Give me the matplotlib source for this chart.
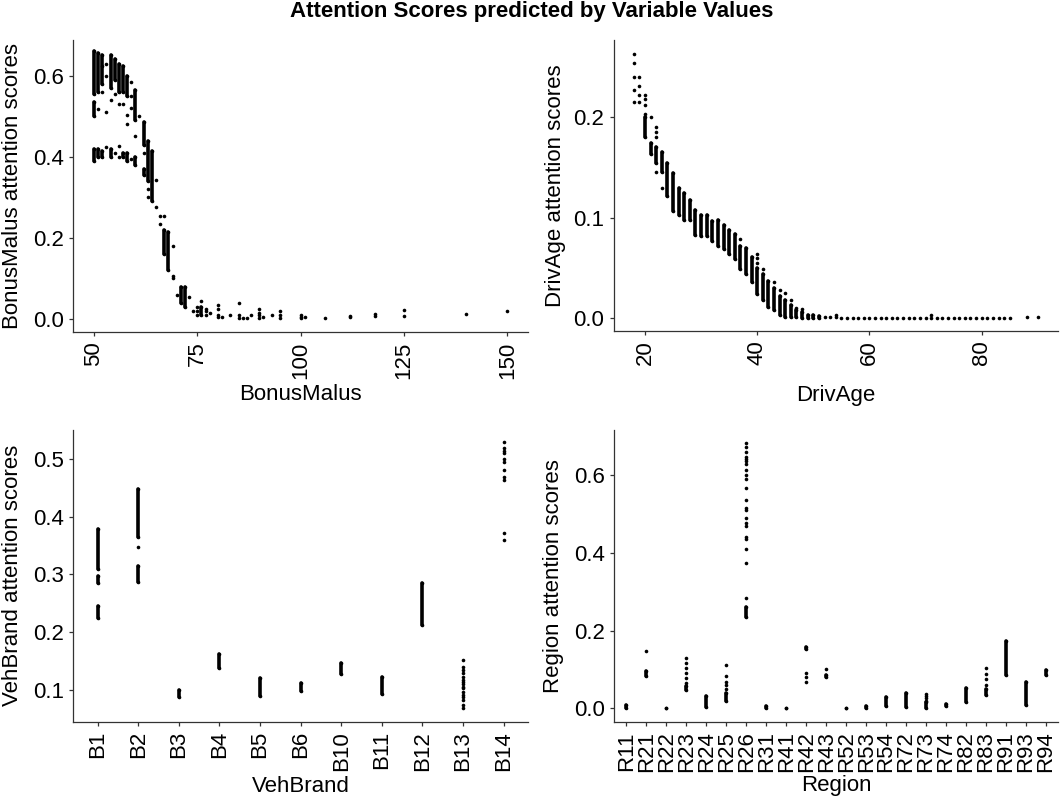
import matplotlib
matplotlib.use("Agg")
import matplotlib.pyplot as plt

plt.rcParams['font.family'] = ['Liberation Sans', 'DejaVu Sans']

# ---------------- Data ----------------
# BonusMalus: dense vertical bands (x, low, high) and single points (x, y)
bm_band_x  = [50, 50, 50, 51, 51, 52, 52, 54, 54, 55, 56, 57, 57, 58, 58, 60, 60, 62, 62, 63, 64, 67, 68, 71, 72, 76]
bm_band_lo = [0.555, 0.500, 0.390, 0.560, 0.400, 0.580, 0.400, 0.570, 0.400, 0.590, 0.560, 0.560, 0.400, 0.550, 0.390, 0.490, 0.380, 0.430, 0.355, 0.340, 0.290, 0.160, 0.120, 0.040, 0.030, 0.010]
bm_band_hi = [0.660, 0.535, 0.420, 0.655, 0.420, 0.650, 0.415, 0.650, 0.420, 0.640, 0.630, 0.625, 0.410, 0.600, 0.410, 0.565, 0.400, 0.485, 0.370, 0.440, 0.415, 0.220, 0.215, 0.080, 0.080, 0.030]
bm_pt_x = [51, 53, 53, 53, 53, 52, 52, 54, 55, 55, 56, 56, 56, 57, 58, 58, 59, 59, 59, 59, 60, 61, 62, 63, 63,
           65, 65, 66, 66, 67, 69, 69, 69, 70, 73, 74, 75, 75, 75, 76, 77, 77, 77, 78, 80, 80, 80, 80, 81, 83,
           85, 85, 85, 86, 87, 88, 90, 90, 90, 90, 91, 93, 95, 95, 95, 100, 100, 100, 101, 106, 112, 112,
           118, 118, 125, 125, 140, 150]
bm_pt_y = [0.517, 0.511, 0.424, 0.600, 0.630, 0.625, 0.560, 0.540, 0.555, 0.410, 0.530, 0.427, 0.400, 0.530, 0.481, 0.504, 0.585, 0.550, 0.520, 0.395, 0.451, 0.500, 0.409, 0.320, 0.300,
           0.343, 0.277, 0.235, 0.255, 0.255, 0.180, 0.105, 0.100, 0.060, 0.055, 0.020, 0.010, 0.020, 0.030, 0.045, 0.010, 0.020, 0.025, 0.015, 0.005, 0.010, 0.025, 0.035, 0.005, 0.010,
           0.003, 0.010, 0.040, 0.003, 0.003, 0.010, 0.002, 0.010, 0.015, 0.025, 0.006, 0.010, 0.002, 0.010, 0.020, 0.002, 0.005, 0.010, 0.006, 0.003, 0.004, 0.008,
           0.008, 0.012, 0.008, 0.022, 0.013, 0.020]

# DrivAge
da_band_x  = [20, 21, 22, 23, 24, 25, 26, 27, 28, 29, 30, 31, 32, 33, 34, 35, 36, 37, 38, 39, 40, 41, 42, 43, 44, 45, 46, 47, 48, 49, 50, 51]
da_band_lo = [0.180, 0.163, 0.155, 0.146, 0.122, 0.107, 0.103, 0.098, 0.098, 0.083, 0.082, 0.082, 0.077, 0.072, 0.069, 0.064, 0.059, 0.049, 0.044, 0.036, 0.024, 0.018, 0.011, 0.008, 0.003, 0.0015, 0.001, 0.0007, 0.000, 0.000, 0.000, 0.000]
da_band_hi = [0.200, 0.174, 0.170, 0.165, 0.155, 0.145, 0.130, 0.125, 0.118, 0.108, 0.103, 0.103, 0.097, 0.098, 0.093, 0.088, 0.084, 0.072, 0.070, 0.061, 0.050, 0.044, 0.037, 0.030, 0.022, 0.018, 0.013, 0.008, 0.006, 0.003, 0.003, 0.002]
da_pt_x = [18, 18, 18, 18, 18, 19, 19, 19, 19, 20, 20, 20, 20, 21, 22, 22, 22, 22, 23, 37, 40, 40, 40, 41, 43, 44, 45, 46, 47, 48,
           52, 53, 54, 54, 55, 56, 57, 58, 59, 60, 61, 62, 63, 64, 65, 66, 67, 68, 69, 70, 71, 71, 72, 73, 74, 75,
           76, 77, 78, 79, 80, 81, 82, 83, 84, 85, 88, 90]
da_pt_y = [0.263, 0.254, 0.240, 0.227, 0.215, 0.240, 0.231, 0.222, 0.215, 0.222, 0.218, 0.212, 0.203, 0.200, 0.190, 0.185, 0.180, 0.146, 0.130, 0.079, 0.055, 0.060, 0.064, 0.049, 0.036, 0.028, 0.025, 0.018, 0.010, 0.009,
           0.001, 0.001, 0.003, 0.001, 0.000, 0.000, 0.000, 0.000, 0.000, 0.000, 0.000, 0.000, 0.000, 0.000, 0.000, 0.000, 0.000, 0.000, 0.000, 0.000, 0.000, 0.003, 0.000, 0.000, 0.000, 0.000,
           0.000, 0.000, 0.000, 0.000, 0.000, 0.000, 0.000, 0.000, 0.000, 0.000, 0.001, 0.001]

# VehBrand
vb_cats = ['B1', 'B2', 'B3', 'B4', 'B5', 'B6', 'B10', 'B11', 'B12', 'B13', 'B14']
vb_band_cat = ['B1', 'B1', 'B1', 'B2', 'B2', 'B3', 'B4', 'B5', 'B6', 'B10', 'B11', 'B12']
vb_band_lo  = [0.225, 0.285, 0.310, 0.287, 0.365, 0.088, 0.138, 0.090, 0.098, 0.128, 0.093, 0.213]
vb_band_hi  = [0.245, 0.298, 0.378, 0.315, 0.448, 0.100, 0.163, 0.120, 0.112, 0.147, 0.122, 0.285]
vb_pt_cat = ['B2'] + ['B13'] * 16 + ['B14'] * 11
vb_pt_y = [0.347,
           0.069, 0.074, 0.083, 0.088, 0.091, 0.097, 0.103, 0.106, 0.110, 0.113, 0.117, 0.123, 0.129, 0.135, 0.140, 0.152,
           0.359, 0.371, 0.464, 0.469, 0.480, 0.495, 0.500, 0.509, 0.513, 0.518, 0.528]

# Region
rg_cats = ['R11', 'R21', 'R22', 'R23', 'R24', 'R25', 'R26', 'R31', 'R41', 'R42', 'R43',
           'R52', 'R53', 'R54', 'R72', 'R73', 'R74', 'R82', 'R83', 'R91', 'R93', 'R94']
rg_band_cat = ['R11', 'R21', 'R22', 'R23', 'R24', 'R25', 'R26', 'R31', 'R41', 'R42', 'R43',
               'R52', 'R53', 'R54', 'R72', 'R73', 'R74', 'R82', 'R83', 'R91', 'R93', 'R94']
rg_band_lo = [0.000, 0.082, 0.000, 0.046, 0.003, 0.020, 0.236, 0.000, 0.000, 0.152, 0.080,
              0.000, 0.000, 0.005, 0.003, 0.002, 0.005, 0.015, 0.033, 0.085, 0.008, 0.086]
rg_band_hi = [0.008, 0.097, 0.002, 0.057, 0.032, 0.040, 0.260, 0.006, 0.001, 0.157, 0.085,
              0.002, 0.006, 0.030, 0.040, 0.015, 0.010, 0.052, 0.050, 0.172, 0.068, 0.098]
rg_pt_cat = (['R21'] + ['R23'] * 6 + ['R25'] * 5 + ['R26'] * 22 + ['R42'] * 3 + ['R43'] + ['R73'] * 4 + ['R83'] * 4)
rg_pt_y = ([0.147] +
           [0.066, 0.077, 0.090, 0.103, 0.116, 0.130] +
           [0.050, 0.060, 0.068, 0.084, 0.111] +
           [0.285, 0.373, 0.411, 0.435, 0.440, 0.470, 0.476, 0.489, 0.510, 0.516, 0.536, 0.568,
            0.591, 0.600, 0.613, 0.630, 0.637, 0.642, 0.647, 0.660, 0.673, 0.684] +
           [0.067, 0.081, 0.090] +
           [0.102] +
           [0.020, 0.027, 0.032, 0.036] +
           [0.060, 0.075, 0.088, 0.103])

# ---------------- Figure ----------------
W, H = 1063, 798
fig = plt.figure(figsize=(W / 100, H / 100), dpi=100)

def frac(l, r, t, b):
    return [l / W, 1 - b / H, (r - l) / W, (b - t) / H]

ax1 = fig.add_axes(frac(73.3, 528, 40, 332))
ax2 = fig.add_axes(frac(613.5, 1058, 40, 331))
ax3 = fig.add_axes(frac(73.3, 528, 430, 721.7))
ax4 = fig.add_axes(frac(614.3, 1058, 430, 721.7))

PT = 2.6      # marker diameter (pt)
COL = 'black'
TICK_FS = 16
LAB_FS = 16

def style(ax):
    for s in ['top', 'right']:
        ax.spines[s].set_visible(False)
    for s in ['left', 'bottom']:
        ax.spines[s].set_color('#333333')
        ax.spines[s].set_linewidth(0.9)
    ax.tick_params(axis='both', colors='#333333', length=3.2, width=0.9,
                   labelsize=TICK_FS, labelcolor='black', pad=3.5)
    ax.tick_params(axis='x', labelrotation=90)

def draw(ax, bx, blo, bhi, px, py):
    lc = ax.vlines(bx, blo, bhi, colors=COL, linewidth=PT)
    lc.set_capstyle('round')
    ax.plot(bx, blo, 'o', color=COL, markersize=PT, markeredgewidth=0, linestyle='none')
    ax.plot(bx, bhi, 'o', color=COL, markersize=PT, markeredgewidth=0, linestyle='none')
    ax.plot(px, py, 'o', color=COL, markersize=PT, markeredgewidth=0, linestyle='none')

# Panel 1
draw(ax1, bm_band_x, bm_band_lo, bm_band_hi, bm_pt_x, bm_pt_y)
ax1.set_xlim(45, 155)
ax1.set_ylim(-0.032, 0.688)
ax1.set_xticks([50, 75, 100, 125, 150])
ax1.set_yticks([0.0, 0.2, 0.4, 0.6])
ax1.set_yticklabels(['0.0', '0.2', '0.4', '0.6'])
ax1.set_xlabel('BonusMalus', fontsize=LAB_FS)
ax1.set_ylabel('BonusMalus attention scores', fontsize=LAB_FS)

# Panel 2
draw(ax2, da_band_x, da_band_lo, da_band_hi, da_pt_x, da_pt_y)
ax2.set_xlim(14.4, 93.6)
ax2.set_ylim(-0.0129, 0.2771)
ax2.set_xticks([20, 40, 60, 80])
ax2.set_yticks([0.0, 0.1, 0.2])
ax2.set_yticklabels(['0.0', '0.1', '0.2'])
ax2.set_xlabel('DrivAge', fontsize=LAB_FS)
ax2.set_ylabel('DrivAge attention scores', fontsize=LAB_FS)

# Panel 3
vb_pos = {c: i + 1 for i, c in enumerate(vb_cats)}
draw(ax3, [vb_pos[c] for c in vb_band_cat], vb_band_lo, vb_band_hi,
     [vb_pos[c] for c in vb_pt_cat], vb_pt_y)
ax3.set_xlim(0.4, len(vb_cats) + 0.6)
ax3.set_ylim(0.0452, 0.5496)
ax3.set_xticks(list(vb_pos.values()))
ax3.set_xticklabels(vb_cats)
ax3.set_yticks([0.1, 0.2, 0.3, 0.4, 0.5])
ax3.set_yticklabels(['0.1', '0.2', '0.3', '0.4', '0.5'])
ax3.set_xlabel('VehBrand', fontsize=LAB_FS)
ax3.set_ylabel('VehBrand attention scores', fontsize=LAB_FS)

# Panel 4
rg_pos = {c: i + 1 for i, c in enumerate(rg_cats)}
draw(ax4, [rg_pos[c] for c in rg_band_cat], rg_band_lo, rg_band_hi,
     [rg_pos[c] for c in rg_pt_cat], rg_pt_y)
ax4.set_xlim(0.4, len(rg_cats) + 0.6)
ax4.set_ylim(-0.0345, 0.7163)
ax4.set_xticks(list(rg_pos.values()))
ax4.set_xticklabels(rg_cats)
ax4.set_yticks([0.0, 0.2, 0.4, 0.6])
ax4.set_yticklabels(['0.0', '0.2', '0.4', '0.6'])
ax4.set_xlabel('Region', fontsize=LAB_FS)
ax4.set_ylabel('Region attention scores', fontsize=LAB_FS)

for ax in (ax1, ax2, ax3, ax4):
    style(ax)
    ax.xaxis.label.set_va('center')
    ax.yaxis.label.set_va('center')

# label positions (pixel centres converted to axes fraction)
def set_label_px(ax, l, t, r, b, xlab_y, ylab_x):
    ax.xaxis.set_label_coords(0.5, (b - xlab_y) / (b - t))
    ax.yaxis.set_label_coords((ylab_x - l) / (r - l), 0.5)

set_label_px(ax1, 73.3, 40, 528, 332, 395, 13)
set_label_px(ax2, 613.5, 40, 1058, 331, 395, 555)
set_label_px(ax3, 73.3, 430, 528, 721.7, 786, 13)
set_label_px(ax4, 614.3, 430, 1058, 721.7, 786, 553)

fig.text(0.5, 1 - 12 / H, 'Attention Scores predicted by Variable Values',
         ha='center', va='center', fontsize=16, fontweight='bold')

fig.savefig('out.png', dpi=100)
